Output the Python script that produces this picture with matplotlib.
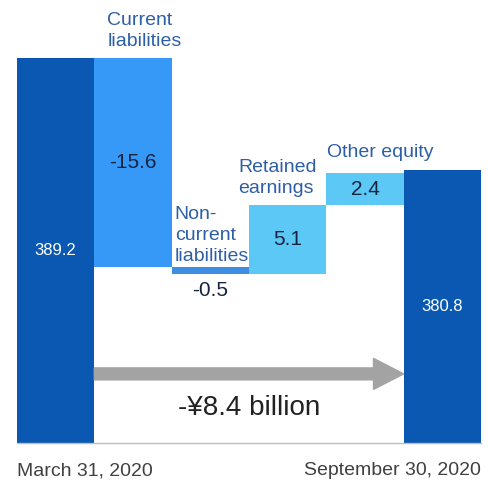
import matplotlib
matplotlib.use("Agg")
import matplotlib.pyplot as plt
from matplotlib.patches import FancyArrow

plt.rcParams["font.family"] = ["Liberation Sans", "DejaVu Sans"]

# 数据
categories = ["March 31, 2020", "Current\nliabilities", "Non-\ncurrent\nliabilities",
              "Retained\nearnings", "Other equity", "September 30, 2020"]
values = [389.2, -15.6, -0.5, 5.1, 2.4, 380.8]
is_total = [True, False, False, False, False, True]
value_labels = ["389.2", "-15.6", "-0.5", "5.1", "2.4", "380.8"]
change_label = "-¥8.4 billion"

# 颜色
DARK = "#0a58b2"
colors = [DARK, "#3799f7", "#3d8de0", "#5bc8f5", "#5bc8f5", DARK]
LABEL_BLUE = "#2d5fa6"
VALUE_DARK = "#16243f"

fig = plt.figure(figsize=(4.89, 4.83), dpi=100)
fig.patch.set_facecolor("white")
ax = fig.add_axes([17 / 489, 40 / 483, 464 / 489, 443 / 483])

# 计算瀑布图柱子
bottoms, heights = [], []
running = 0.0
for v, tot in zip(values, is_total):
    if tot:
        bottoms.append(0.0)
        heights.append(v)
        running = v
    else:
        bottoms.append(running if v > 0 else running + v)
        heights.append(abs(v))
        running += v

x = list(range(len(values)))
bars = ax.bar(x, heights, bottom=bottoms, width=1.0, color=colors, edgecolor="none")

ax.set_xlim(-0.5, 5.5)
ax.set_ylim(360.5, 393.5)
ax.set_xticks([])
ax.set_yticks([])
for s in ["top", "right", "left"]:
    ax.spines[s].set_visible(False)
ax.spines["bottom"].set_color("#bcbcbc")
ax.spines["bottom"].set_linewidth(1.0)

# 数值标签
for i, (b, h) in enumerate(zip(bottoms, heights)):
    if is_total[i]:
        mid = max(b, 360.5) + (b + h - max(b, 360.5)) / 2
        ax.text(i, mid, value_labels[i], ha="center", va="center",
                color="white", fontsize=12)
    elif h < 1:
        ax.annotate(value_labels[i], xy=(i, b), xytext=(0, -5), textcoords="offset points",
                    ha="center", va="top", color=VALUE_DARK, fontsize=15)
    else:
        ax.text(i, b + h / 2, value_labels[i], ha="center", va="center",
                color=VALUE_DARK, fontsize=15)

# 分类标签（在柱子上方）
label_dx = [0, 13, 3, -11, 1, 0]   # 像素偏移
label_dy = [0, 8, 2, 8, 12, 0]
for i in range(1, 5):
    top = bottoms[i] + heights[i]
    ax.annotate(categories[i], xy=(i - 0.5, top),
                xytext=(label_dx[i] * 0.72, label_dy[i] * 0.72), textcoords="offset points",
                ha="left", va="bottom", color=LABEL_BLUE, fontsize=14, linespacing=1.3)

# 箭头
trans = ax.get_xaxis_transform()
arrow = FancyArrow(0.5, 0.156, 4.0, 0, width=0.027, head_width=0.070,
                   head_length=0.39, length_includes_head=True,
                   color="#a3a3a3", transform=trans)
ax.add_patch(arrow)
ax.text(2.5, 0.079, change_label, transform=trans, ha="center", va="center",
        color="#222222", fontsize=20)

# 日期标签
ax.text(-0.5, -0.063, categories[0], transform=trans, ha="left", va="center",
        color="#404040", fontsize=14, clip_on=False)
ax.text(5.5, -0.063, categories[5], transform=trans, ha="right", va="center",
        color="#404040", fontsize=14, clip_on=False)

fig.savefig("out.png", dpi=100, facecolor="white")
plt.close(fig)
